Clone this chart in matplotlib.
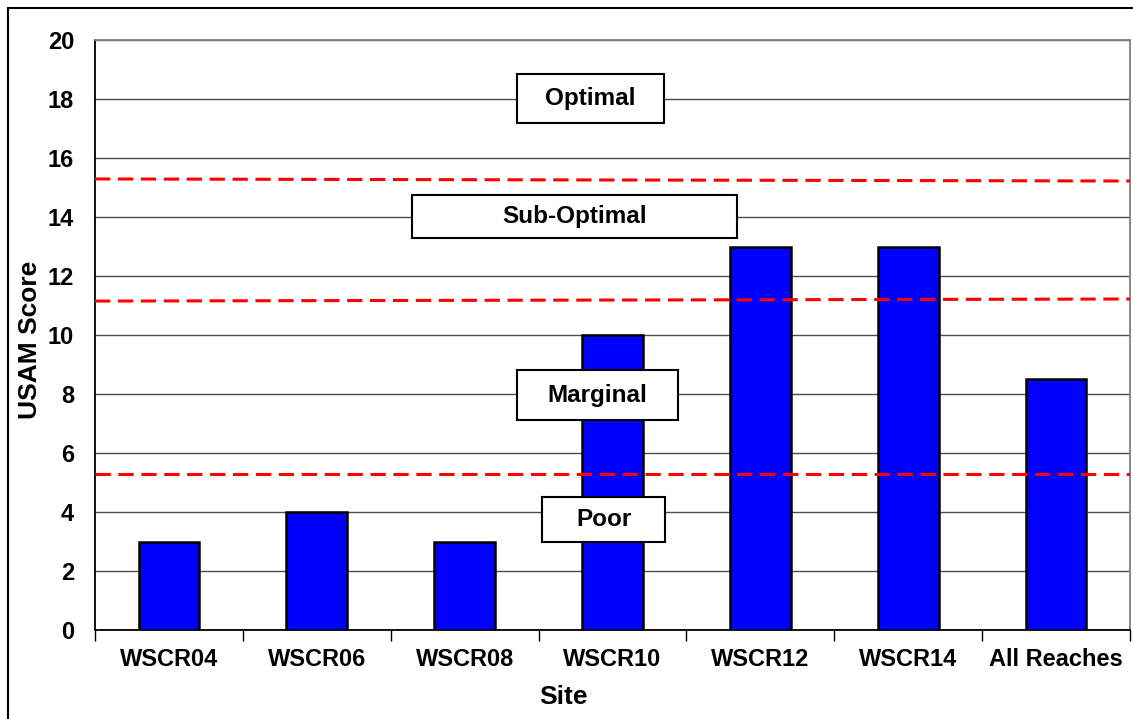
import matplotlib
matplotlib.use('Agg')
import matplotlib.pyplot as plt
from matplotlib.patches import Rectangle
import numpy as np

plt.rcParams['font.family'] = ['Liberation Sans', 'DejaVu Sans']
plt.rcParams['font.weight'] = 'bold'

sites = ['WSCR04', 'WSCR06', 'WSCR08', 'WSCR10', 'WSCR12', 'WSCR14', 'All Reaches']
scores = [3, 4, 3, 10, 13, 13, 8.5]

# class thresholds (left end, right end of the drawn dashed lines)
thresholds = [(15.29, 15.22), (11.15, 11.22), (5.29, 5.29)]

# class labels: text, x0, x1, y0, y1 (box in data units)
classes = [
    ('Optimal', 2.356, 3.347, 17.19, 18.85),
    ('Sub-Optimal', 1.644, 3.842, 13.29, 14.75),
    ('Marginal', 2.356, 3.442, 7.12, 8.81),
    ('Poor', 2.526, 3.353, 2.98, 4.51),
]

W, H = 1133, 719
fig = plt.figure(figsize=(W / 100, H / 100), dpi=100)
ax = fig.add_axes([95 / W, 1 - 630 / H, 1035 / W, 590 / H])

x = np.arange(len(sites))
ax.set_xlim(-0.5, len(sites) - 0.5)
ax.set_ylim(0, 20)

ax.set_yticks(np.arange(0, 21, 2))
ax.yaxis.grid(True, color='#4d4d4d', lw=1.0)
ax.set_axisbelow(True)

ax.bar(x, scores, width=0.41, color='#0000ff', edgecolor='black', lw=1.8, zorder=3)

for y0, y1 in thresholds:
    ax.plot([-0.5, len(sites) - 0.5], [y0, y1], color='red', ls=(0, (5, 2.5)), lw=2.2, zorder=4)

for label, x0, x1, y0, y1 in classes:
    ax.add_patch(Rectangle((x0, y0), x1 - x0, y1 - y0, facecolor='white',
                           edgecolor='black', lw=1.5, zorder=5))
    ax.text((x0 + x1) / 2, (y0 + y1) / 2, label, ha='center', va='center',
            fontsize=17.5, fontweight='bold', zorder=6)

# x ticks: labels at centres, marks at category boundaries
ax.set_xticks(x)
ax.set_xticklabels(sites, fontsize=17, fontweight='bold')
ax.set_xticks(np.arange(-0.5, len(sites)), minor=True)
ax.tick_params(axis='x', which='major', length=0, pad=13)
ax.tick_params(axis='x', which='minor', length=8, width=1, direction='out')
ax.tick_params(axis='y', length=0, labelsize=17, pad=15)
for t in ax.get_yticklabels():
    t.set_fontweight('bold')

ax.spines['left'].set_color('black')
ax.spines['bottom'].set_color('black')
ax.spines['top'].set_color('#808080')
ax.spines['right'].set_color('#808080')
for s in ax.spines.values():
    s.set_linewidth(1.3)

fig.text(563 / W, 1 - 697 / H, 'Site', ha='center', va='center', fontsize=19, fontweight='bold')
fig.text(30 / W, 1 - 340 / H, 'USAM Score', ha='center', va='center', rotation=90,
         fontsize=19, fontweight='bold')

# outer chart frame
fig.patches.append(Rectangle((8 / W, -0.1), 1.2, 1 - 8 / H + 0.1, transform=fig.transFigure,
                             fill=False, edgecolor='black', lw=1.5))

fig.savefig('out.png', dpi=100)
